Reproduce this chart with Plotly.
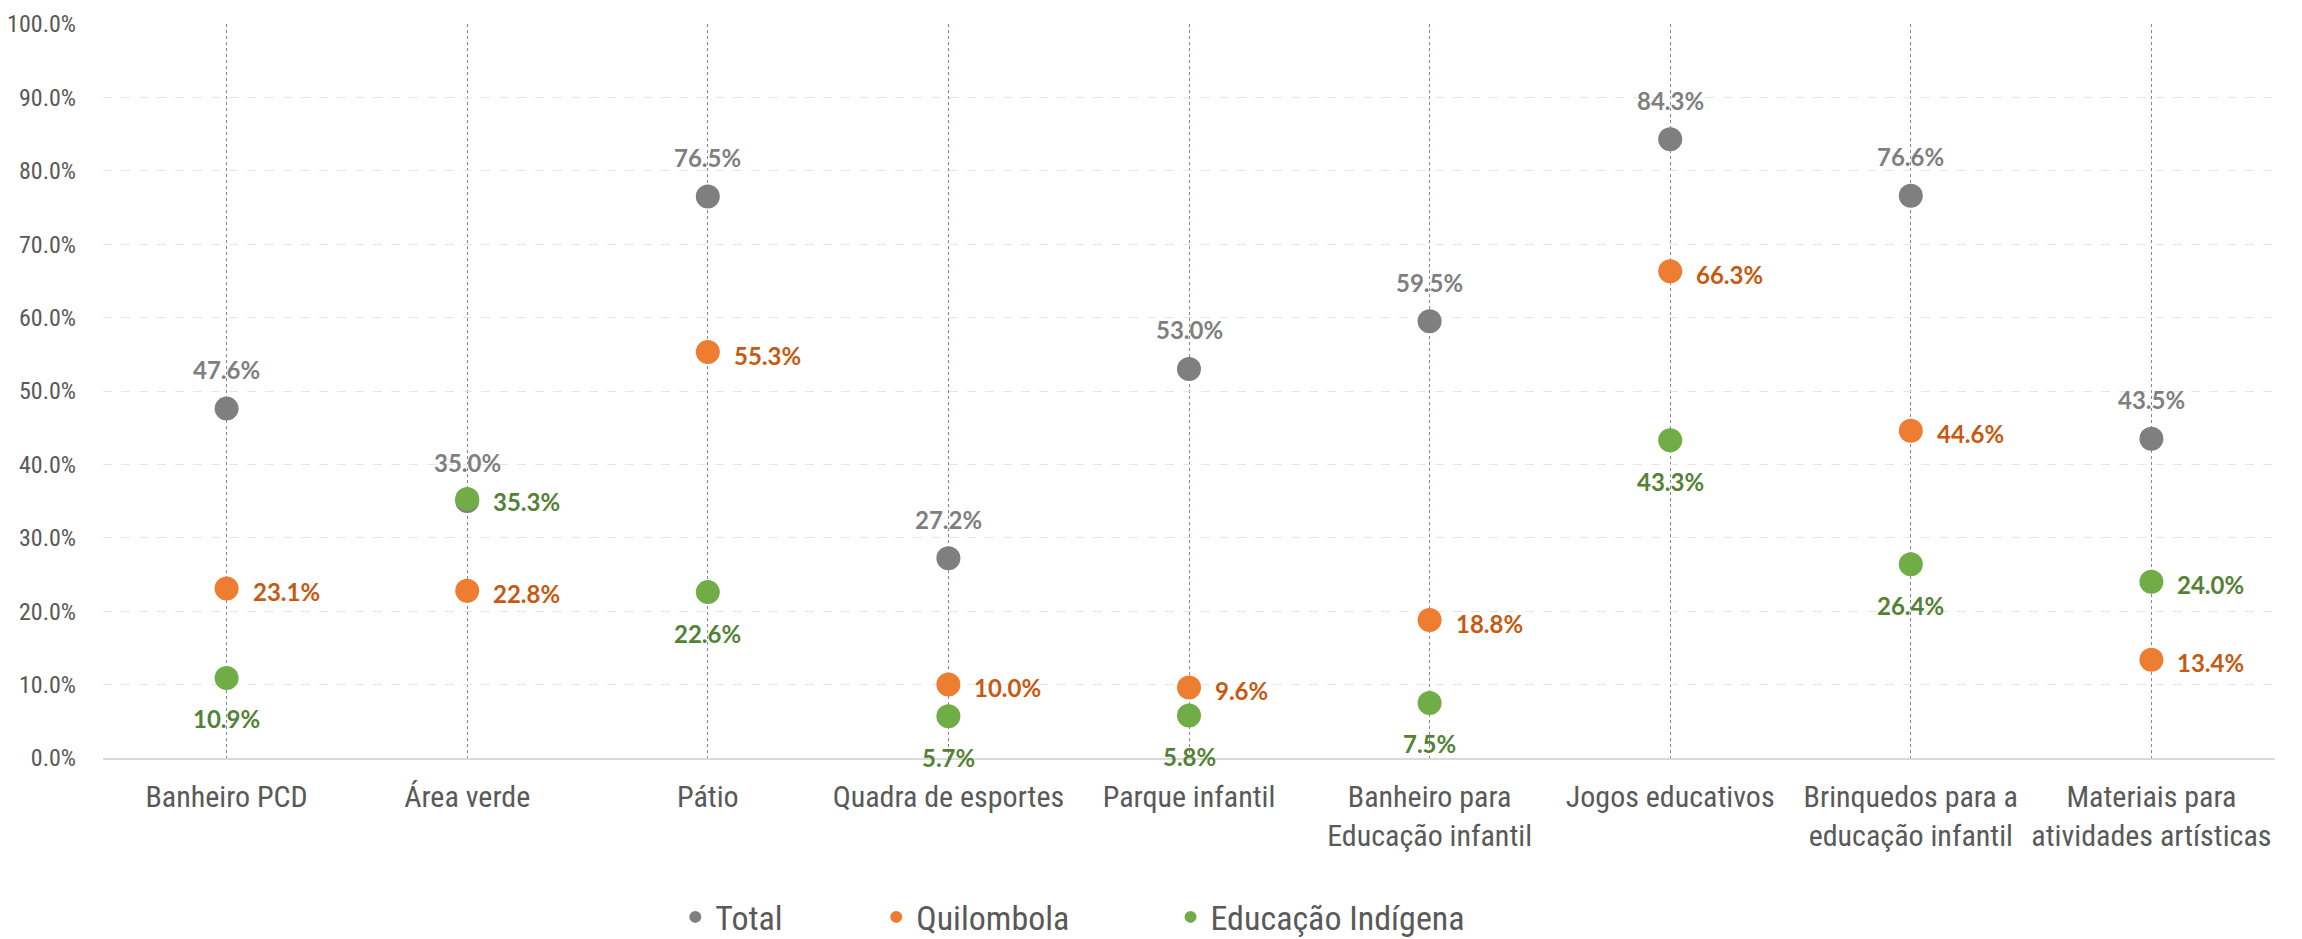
import plotly.graph_objects as go

categorias = ["Banheiro PCD", "Área verde", "Pátio", "Quadra de esportes", "Parque infantil",
              "Banheiro para<br>Educação infantil", "Jogos educativos",
              "Brinquedos para a<br>educação infantil", "Materiais para<br>atividades artísticas"]
total = [47.6, 35.0, 76.5, 27.2, 53.0, 59.5, 84.3, 76.6, 43.5]
quilombola = [23.1, 22.8, 55.3, 10.0, 9.6, 18.8, 66.3, 44.6, 13.4]
indigena = [10.9, 35.3, 22.6, 5.7, 5.8, 7.5, 43.3, 26.4, 24.0]

# green labels go to the right of the dot where they would collide with another label
lado_indigena = ["baixo", "direita", "baixo", "baixo", "baixo", "baixo", "baixo", "baixo", "direita"]

NARROW = "Liberation Sans Narrow, Arial Narrow, Roboto Condensed, Roboto, sans-serif"
BOLD = "Lato, Open Sans, sans-serif"

fig = go.Figure()

series = [
    ("Total", total, "#7f7f7f", "legend"),
    ("Quilombola", quilombola, "#ed7d31", "legend2"),
    ("Educação Indígena", indigena, "#70ad47", "legend3"),
]
for name, vals, cor, leg in series:
    fig.add_trace(go.Scatter(
        x=categorias, y=vals, name=name, mode="markers",
        marker=dict(size=24, color=cor),
        legend=leg, cliponaxis=False,
    ))


def rotulo(cat, v, cor, pos):
    base = dict(x=cat, y=v, text=f"{v:.1f}%", showarrow=False,
                font=dict(family=BOLD, size=24, color=cor, weight="bold"))
    if pos == "cima":
        base.update(yshift=39, xanchor="center", yanchor="middle")
    elif pos == "baixo":
        base.update(yshift=-41, xanchor="center", yanchor="middle")
    else:
        base.update(xshift=24, yshift=-3, xanchor="left", yanchor="middle")
    fig.add_annotation(**base)


for cat, v in zip(categorias, total):
    rotulo(cat, v, "#7f7f7f", "cima")
for cat, v in zip(categorias, quilombola):
    rotulo(cat, v, "#c55a11", "direita")
for cat, v, lado in zip(categorias, indigena, lado_indigena):
    rotulo(cat, v, "#548235", lado)

leg_common = dict(orientation="h", yanchor="middle", y=-0.217, xanchor="left",
                  font=dict(family=NARROW, size=34, color="#595959"),
                  bgcolor="rgba(0,0,0,0)", itemsizing="constant")

# the page adds an 8px body margin, so the figure is 8px smaller than the window
fig.update_layout(
    width=2294, height=931,
    margin=dict(l=95, r=27, t=16, b=181, autoexpand=False),
    paper_bgcolor="white", plot_bgcolor="white",
    showlegend=True,
    legend=dict(leg_common, x=0.2635),
    legend2=dict(leg_common, x=0.356),
    legend3=dict(leg_common, x=0.4915),
    xaxis=dict(
        showgrid=True, gridcolor="#8282ae", griddash="dot", gridwidth=1.2,
        showline=True, linecolor="#d9d9d9", linewidth=2,
        ticks="", ticklabelstandoff=11, automargin=False,
        tickfont=dict(family=NARROW, size=30, color="#595959"),
    ),
    yaxis=dict(
        range=[0, 100], dtick=10, tickformat=".1f", ticksuffix="%",
        showgrid=True, gridcolor="#e6e6e6", griddash="dash", gridwidth=1,
        zeroline=False, ticks="", ticklabelstandoff=26, automargin=False,
        ticklabeloverflow="allow",
        tickfont=dict(family=NARROW, size=24, color="#595959"),
    ),
)

fig.write_html("out.html")
